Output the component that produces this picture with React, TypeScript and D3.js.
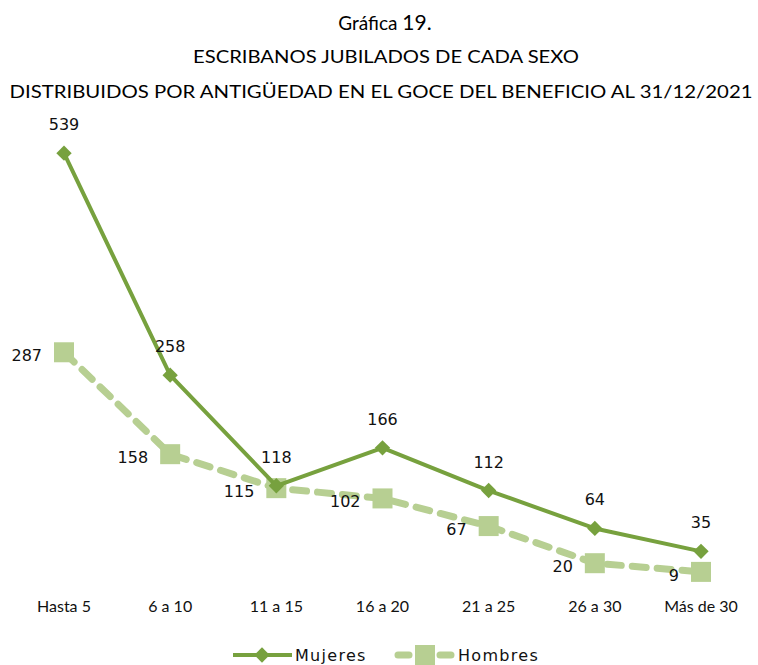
import * as d3 from 'd3';

const categories = ['Hasta 5', '6 a 10', '11 a 15', '16 a 20', '21 a 25', '26 a 30', 'Más de 30'];
const mujeres = [539, 258, 118, 166, 112, 64, 35];
const hombres = [287, 158, 115, 102, 67, 20, 9];
const titleLines = [
  'Gráfica 19.',
  'ESCRIBANOS JUBILADOS DE CADA SEXO',
  'DISTRIBUIDOS POR ANTIGÜEDAD EN EL GOCE DEL BENEFICIO AL 31/12/2021',
];

const W = 758;
const H = 665;
const DARK = '#77A13E';
const LIGHT = '#B7CF92';
const LABEL_FONT = '"DejaVu Sans", Verdana, sans-serif';
const TITLE_FONT = 'Lato, "Open Sans", sans-serif';

export default function App() {
  const x = d3.scalePoint<string>().domain(categories).range([64, 701]);
  const y = d3.scaleLinear().domain([0, 600]).range([579, 105]);

  const line = d3
    .line<number>()
    .x((_, i) => x(categories[i]) as number)
    .y((d) => y(d));

  const diamond = d3.symbol().type(d3.symbolDiamond2).size(150)();

  return (
    <svg
      width={W}
      height={H}
      style={{ position: 'absolute', left: 0, top: 0, background: '#fff' }}
    >
      {/* Titles */}
      <text x={385} y={30} textAnchor="middle" fontFamily={TITLE_FONT} fontSize={19} fill="#000">
        Gráfica <tspan fontSize={21}>19.</tspan>
      </text>
      <text
        x={386}
        y={63}
        textAnchor="middle"
        fontFamily={TITLE_FONT}
        fontSize={17}
        fill="#000"
        textLength={386}
        lengthAdjust="spacingAndGlyphs"
      >
        {titleLines[1]}
      </text>
      <text
        x={381}
        y={98}
        textAnchor="middle"
        fontFamily={TITLE_FONT}
        fontSize={17}
        fill="#000"
        textLength={743}
        lengthAdjust="spacingAndGlyphs"
      >
        {titleLines[2]}
      </text>

      {/* Hombres */}
      <path
        d={line(hombres) || ''}
        fill="none"
        stroke={LIGHT}
        strokeWidth={7}
        strokeDasharray="14 11"
        strokeLinecap="round"
        strokeLinejoin="round"
      />
      {hombres.map((v, i) => (
        <rect
          key={'h' + i}
          x={(x(categories[i]) as number) - 10}
          y={y(v) - 10}
          width={20}
          height={20}
          fill={LIGHT}
        />
      ))}

      {/* Mujeres */}
      <path
        d={line(mujeres) || ''}
        fill="none"
        stroke={DARK}
        strokeWidth={4}
        strokeLinejoin="round"
      />
      {mujeres.map((v, i) => (
        <path
          key={'m' + i}
          d={diamond || ''}
          transform={`translate(${x(categories[i])},${y(v)})`}
          fill={DARK}
        />
      ))}

      {/* Data labels */}
      {mujeres.map((v, i) => (
        <text
          key={'ml' + i}
          x={x(categories[i]) as number}
          y={y(v) - 23}
          textAnchor="middle"
          fontFamily={LABEL_FONT}
          fontSize={16}
          fill="#111"
        >
          {v}
        </text>
      ))}
      {hombres.map((v, i) => (
        <text
          key={'hl' + i}
          x={(x(categories[i]) as number) - 22}
          y={y(v) + 9}
          textAnchor="end"
          fontFamily={LABEL_FONT}
          fontSize={16}
          fill="#111"
        >
          {v}
        </text>
      ))}

      {/* Category axis labels */}
      {categories.map((c) => (
        <text
          key={c}
          x={x(c) as number}
          y={612}
          textAnchor="middle"
          fontFamily={TITLE_FONT}
          fontSize={16}
          fill="#111"
        >
          {c}
        </text>
      ))}

      {/* Legend */}
      <g>
        <line x1={233} x2={292} y1={655} y2={655} stroke={DARK} strokeWidth={4} />
        <path d={diamond || ''} transform="translate(262,655)" fill={DARK} />
        <text x={295} y={661} fontFamily={LABEL_FONT} fontSize={16} letterSpacing={1.3} fill="#111">
          Mujeres
        </text>
        <line
          x1={398}
          x2={452}
          y1={655}
          y2={655}
          stroke={LIGHT}
          strokeWidth={7}
          strokeDasharray="11 10"
          strokeLinecap="round"
        />
        <rect x={415} y={645} width={20} height={20} fill={LIGHT} />
        <text x={458} y={661} fontFamily={LABEL_FONT} fontSize={16} letterSpacing={1.3} fill="#111">
          Hombres
        </text>
      </g>
    </svg>
  );
}
